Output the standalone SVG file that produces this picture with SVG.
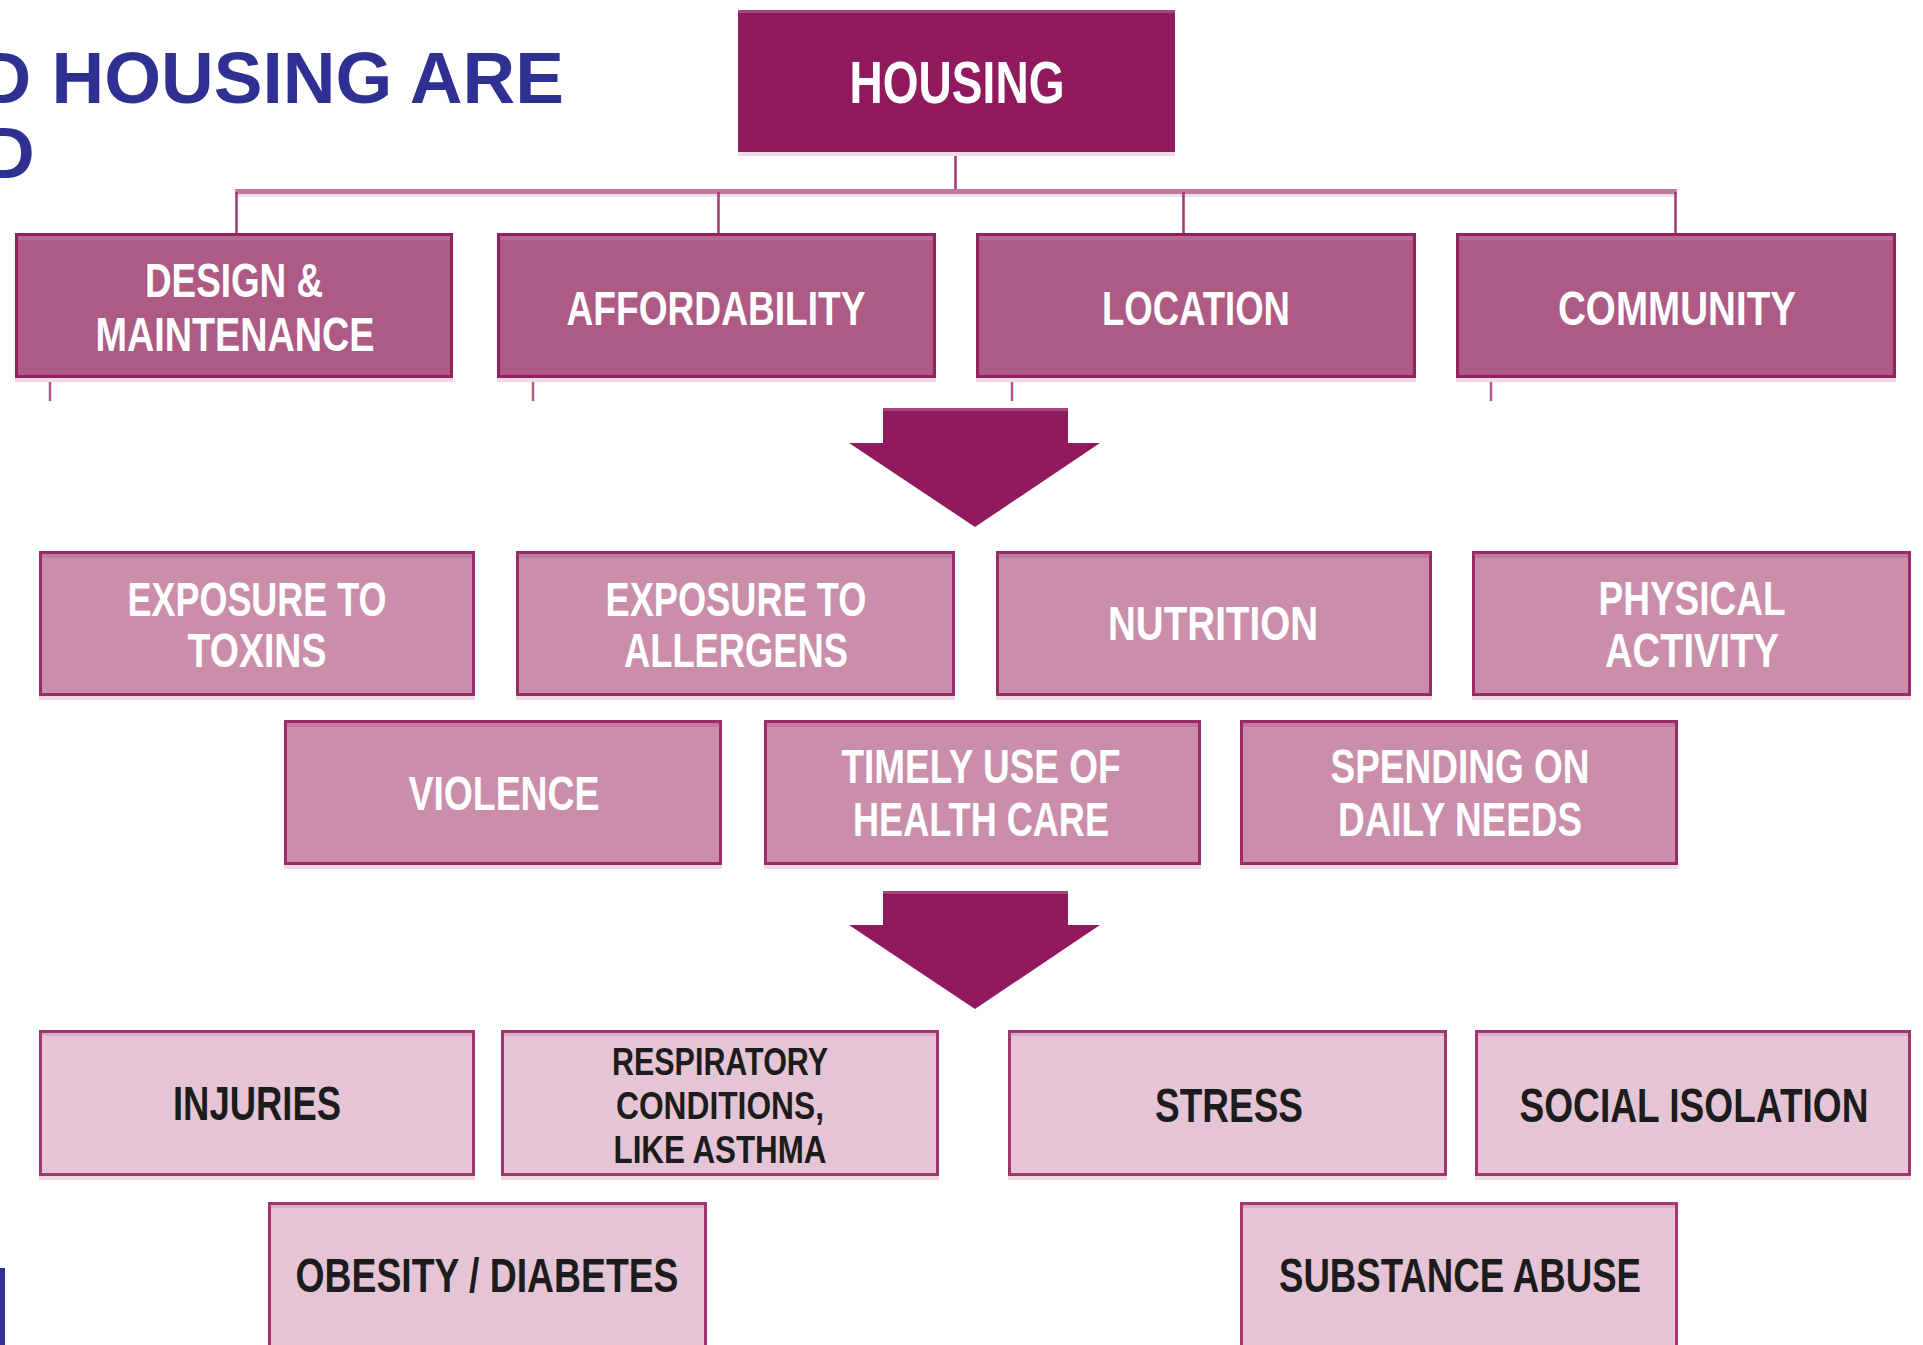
<svg xmlns="http://www.w3.org/2000/svg" width="1923" height="1345" viewBox="0 0 1923 1345">
  <style>
    .lbl { font-family: "Liberation Sans Narrow", "Liberation Sans", "DejaVu Sans Condensed", sans-serif; font-weight: bold; text-anchor: middle; }
    .w { fill: #ffffff; font-size: 48px; }
    .k { fill: #1c1c1c; font-size: 48px; }
    .sm { font-size: 38px; }
    .title { font-family: "Liberation Sans", Arial, sans-serif; font-weight: bold; font-size: 73px; fill: #2e3192; }
    .top { fill: #911a5e; }
    .l1 { fill: #ad5a85; stroke: #95205f; stroke-width: 3; }
    .l2 { fill: #ca8eab; stroke: #9c2b69; stroke-width: 3; }
    .l3 { fill: #e5c5d5; stroke: #a33671; stroke-width: 3; }
    .sh { fill: #eedbe5; }
    .l1s { fill: #b56a92; }
    .l2s { fill: #bf7b9d; }
    .l3s { fill: #d9aec4; }
    .drop { stroke: #a13a73; stroke-width: 2.5; fill: none; }
    .tick { stroke: #b45b8c; stroke-width: 2.5; fill: none; }
    .arrow { fill: #911a5e; }
  </style>

  <!-- title fragment at the left edge -->
  <g id="title">
    <text class="title" x="564" y="103" text-anchor="end">D HOUSING ARE</text>
    <text class="title" x="-18" y="178">D</text>
    <rect x="0" y="1268" width="5" height="77" fill="#2e3192"/>
  </g>

  <!-- connectors: tree lines and the two block arrows -->
  <g id="connectors">
    <line class="drop" x1="955.5" y1="152" x2="955.5" y2="192"/>
    <rect x="235" y="189" width="1442" height="5" fill="#c07aa0"/>
    <rect x="235" y="194" width="1442" height="3" fill="#efdfe8"/>
    <line class="drop" x1="236.5" y1="192" x2="236.5" y2="233"/>
    <line class="drop" x1="718.5" y1="192" x2="718.5" y2="233"/>
    <line class="drop" x1="1183.5" y1="192" x2="1183.5" y2="233"/>
    <line class="drop" x1="1675.5" y1="192" x2="1675.5" y2="233"/>
    <line class="tick" x1="50" y1="378" x2="50" y2="401"/>
    <line class="tick" x1="533" y1="378" x2="533" y2="401"/>
    <line class="tick" x1="1012" y1="378" x2="1012" y2="401"/>
    <line class="tick" x1="1491" y1="378" x2="1491" y2="401"/>
    <polygon class="arrow" points="883,408 1068,408 1068,443 1100,443 975,527 849,443 883,443"/>
    <rect x="883" y="408" width="185" height="3" fill="#a94479"/>
    <polygon class="arrow" points="883,891 1068,891 1068,925 1100,925 975,1009 849,925 883,925"/>
    <rect x="883" y="891" width="185" height="3" fill="#a94479"/>
  </g>

  <!-- root -->
  <g id="housing">
    <rect class="sh" x="738" y="152" width="437" height="4"/>
    <rect class="top" x="738" y="10" width="437" height="142"/>
    <rect x="738" y="10" width="437" height="3" fill="#a7457c"/>
    <text class="lbl" x="957" y="103" font-size="60" fill="#ffffff" textLength="215" lengthAdjust="spacingAndGlyphs">HOUSING</text>
  </g>

  <!-- housing aspects -->
  <g id="design-maintenance">
    <rect class="sh" x="15" y="378" width="438" height="4"/>
    <rect class="l1" x="16.5" y="234.5" width="435" height="142"/>
    <rect class="l1s" x="18" y="236" width="432" height="4"/>
    <text class="lbl w" x="234" y="297" textLength="178" lengthAdjust="spacingAndGlyphs">DESIGN &amp;</text>
    <text class="lbl w" x="235" y="351" textLength="279" lengthAdjust="spacingAndGlyphs">MAINTENANCE</text>
  </g>
  <g id="affordability">
    <rect class="sh" x="497" y="378" width="439" height="4"/>
    <rect class="l1" x="498.5" y="234.5" width="436" height="142"/>
    <rect class="l1s" x="500" y="236" width="433" height="4"/>
    <text class="lbl w" x="716" y="325" textLength="299" lengthAdjust="spacingAndGlyphs">AFFORDABILITY</text>
  </g>
  <g id="location">
    <rect class="sh" x="976" y="378" width="440" height="4"/>
    <rect class="l1" x="977.5" y="234.5" width="437" height="142"/>
    <rect class="l1s" x="979" y="236" width="434" height="4"/>
    <text class="lbl w" x="1196" y="325" textLength="188" lengthAdjust="spacingAndGlyphs">LOCATION</text>
  </g>
  <g id="community">
    <rect class="sh" x="1456" y="378" width="440" height="4"/>
    <rect class="l1" x="1457.5" y="234.5" width="437" height="142"/>
    <rect class="l1s" x="1459" y="236" width="434" height="4"/>
    <text class="lbl w" x="1677" y="325" textLength="238" lengthAdjust="spacingAndGlyphs">COMMUNITY</text>
  </g>

  <!-- pathways -->
  <g id="toxins">
    <rect class="sh" x="39" y="696" width="436" height="4"/>
    <rect class="l2" x="40.5" y="552.5" width="433" height="142"/>
    <rect class="l2s" x="42" y="554" width="430" height="4"/>
    <text class="lbl w" x="257" y="616" textLength="259" lengthAdjust="spacingAndGlyphs">EXPOSURE TO</text>
    <text class="lbl w" x="257" y="667" textLength="139" lengthAdjust="spacingAndGlyphs">TOXINS</text>
  </g>
  <g id="allergens">
    <rect class="sh" x="516" y="696" width="439" height="4"/>
    <rect class="l2" x="517.5" y="552.5" width="436" height="142"/>
    <rect class="l2s" x="519" y="554" width="433" height="4"/>
    <text class="lbl w" x="736" y="616" textLength="261" lengthAdjust="spacingAndGlyphs">EXPOSURE TO</text>
    <text class="lbl w" x="736" y="667" textLength="224" lengthAdjust="spacingAndGlyphs">ALLERGENS</text>
  </g>
  <g id="nutrition">
    <rect class="sh" x="996" y="696" width="436" height="4"/>
    <rect class="l2" x="997.5" y="552.5" width="433" height="142"/>
    <rect class="l2s" x="999" y="554" width="430" height="4"/>
    <text class="lbl w" x="1213" y="640" textLength="210" lengthAdjust="spacingAndGlyphs">NUTRITION</text>
  </g>
  <g id="physical-activity">
    <rect class="sh" x="1472" y="696" width="439" height="4"/>
    <rect class="l2" x="1473.5" y="552.5" width="436" height="142"/>
    <rect class="l2s" x="1475" y="554" width="433" height="4"/>
    <text class="lbl w" x="1692" y="615" textLength="187" lengthAdjust="spacingAndGlyphs">PHYSICAL</text>
    <text class="lbl w" x="1692" y="667" textLength="174" lengthAdjust="spacingAndGlyphs">ACTIVITY</text>
  </g>
  <g id="violence">
    <rect class="sh" x="284" y="865" width="438" height="4"/>
    <rect class="l2" x="285.5" y="721.5" width="435" height="142"/>
    <rect class="l2s" x="287" y="723" width="432" height="4"/>
    <text class="lbl w" x="504" y="810" textLength="191" lengthAdjust="spacingAndGlyphs">VIOLENCE</text>
  </g>
  <g id="health-care">
    <rect class="sh" x="764" y="865" width="437" height="4"/>
    <rect class="l2" x="765.5" y="721.5" width="434" height="142"/>
    <rect class="l2s" x="767" y="723" width="431" height="4"/>
    <text class="lbl w" x="981" y="783" textLength="279" lengthAdjust="spacingAndGlyphs">TIMELY USE OF</text>
    <text class="lbl w" x="981" y="836" textLength="256" lengthAdjust="spacingAndGlyphs">HEALTH CARE</text>
  </g>
  <g id="daily-needs">
    <rect class="sh" x="1240" y="865" width="438" height="4"/>
    <rect class="l2" x="1241.5" y="721.5" width="435" height="142"/>
    <rect class="l2s" x="1243" y="723" width="432" height="4"/>
    <text class="lbl w" x="1460" y="783" textLength="259" lengthAdjust="spacingAndGlyphs">SPENDING ON</text>
    <text class="lbl w" x="1460" y="836" textLength="244" lengthAdjust="spacingAndGlyphs">DAILY NEEDS</text>
  </g>

  <!-- health outcomes -->
  <g id="injuries">
    <rect class="sh" x="39" y="1176" width="436" height="4"/>
    <rect class="l3" x="40.5" y="1031.5" width="433" height="143"/>
    <rect class="l3s" x="42" y="1033" width="430" height="3"/>
    <text class="lbl k" x="257" y="1120" textLength="168" lengthAdjust="spacingAndGlyphs">INJURIES</text>
  </g>
  <g id="respiratory">
    <rect class="sh" x="501" y="1176" width="438" height="4"/>
    <rect class="l3" x="502.5" y="1031.5" width="435" height="143"/>
    <rect class="l3s" x="504" y="1033" width="432" height="3"/>
    <text class="lbl k sm" x="720" y="1075" textLength="216" lengthAdjust="spacingAndGlyphs">RESPIRATORY</text>
    <text class="lbl k sm" x="720" y="1119" textLength="208" lengthAdjust="spacingAndGlyphs">CONDITIONS,</text>
    <text class="lbl k sm" x="720" y="1163" textLength="213" lengthAdjust="spacingAndGlyphs">LIKE ASTHMA</text>
  </g>
  <g id="stress">
    <rect class="sh" x="1008" y="1176" width="439" height="4"/>
    <rect class="l3" x="1009.5" y="1031.5" width="436" height="143"/>
    <rect class="l3s" x="1011" y="1033" width="433" height="3"/>
    <text class="lbl k" x="1229" y="1122" textLength="148" lengthAdjust="spacingAndGlyphs">STRESS</text>
  </g>
  <g id="social-isolation">
    <rect class="sh" x="1475" y="1176" width="436" height="4"/>
    <rect class="l3" x="1476.5" y="1031.5" width="433" height="143"/>
    <rect class="l3s" x="1478" y="1033" width="430" height="3"/>
    <text class="lbl k" x="1694" y="1122" textLength="349" lengthAdjust="spacingAndGlyphs">SOCIAL ISOLATION</text>
  </g>
  <g id="obesity-diabetes">
    <rect class="l3" x="269.5" y="1203.5" width="436" height="150"/>
    <rect class="l3s" x="271" y="1205" width="433" height="3"/>
    <text class="lbl k" x="487" y="1292" textLength="383" lengthAdjust="spacingAndGlyphs">OBESITY / DIABETES</text>
  </g>
  <g id="substance-abuse">
    <rect class="l3" x="1241.5" y="1203.5" width="435" height="150"/>
    <rect class="l3s" x="1243" y="1205" width="432" height="3"/>
    <text class="lbl k" x="1460" y="1292" textLength="362" lengthAdjust="spacingAndGlyphs">SUBSTANCE ABUSE</text>
  </g>
</svg>
